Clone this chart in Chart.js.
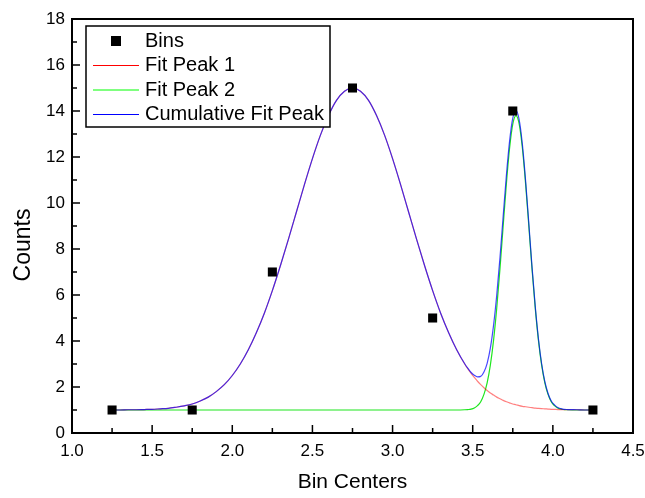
<!DOCTYPE html>
<html>
<head>
<meta charset="utf-8">
<title>Counts vs Bin Centers</title>
<script src="https://cdn.jsdelivr.net/npm/chart.js@4.4.1/dist/chart.umd.min.js"></script>
<style>
  html, body { margin: 0; padding: 0; background: #fff; }
  canvas { display: block; }
</style>
</head>
<body>
<canvas id="chart" width="645" height="498"></canvas>
<script>
// histogram bins
const binCenters = [1.25, 1.75, 2.25, 2.75, 3.25, 3.75, 4.25];
const binCounts  = [1, 1, 7, 15, 5, 14, 1];

// fitted curves, sampled along x (denser around the narrow second peak)
const fitX = [
  1.25, 1.30, 1.35, 1.40, 1.45, 1.50, 1.55, 1.60, 1.65, 1.70, 1.75,
  1.80, 1.85, 1.90, 1.95, 2.00, 2.05, 2.10, 2.15, 2.20, 2.25,
  2.30, 2.35, 2.40, 2.45, 2.50, 2.55, 2.60, 2.65, 2.70, 2.75,
  2.80, 2.85, 2.90, 2.95, 3.00, 3.05, 3.10, 3.15, 3.20, 3.25,
  3.30, 3.35, 3.40,
  3.45, 3.47, 3.49, 3.51, 3.53, 3.55, 3.57, 3.59, 3.61, 3.63, 3.65,
  3.67, 3.69, 3.71, 3.73, 3.75, 3.77, 3.79, 3.81, 3.83, 3.85, 3.87,
  3.89, 3.91, 3.93, 3.95, 3.97, 3.99, 4.01, 4.03, 4.05, 4.07, 4.09,
  4.15, 4.20, 4.25
];
const fitPeak1 = [
  1.00, 1.00, 1.01, 1.01, 1.02, 1.03, 1.05, 1.07, 1.12, 1.18, 1.26,
  1.39, 1.56, 1.80, 2.10, 2.50, 3.00, 3.62, 4.36, 5.21, 6.19,
  7.27, 8.42, 9.61, 10.80, 11.93, 12.95, 13.80, 14.46, 14.86, 15.00,
  14.86, 14.46, 13.80, 12.95, 11.93, 10.80, 9.61, 8.42, 7.27, 6.19,
  5.21, 4.36, 3.62,
  3.00, 2.79, 2.59, 2.42, 2.25, 2.10, 1.97, 1.85, 1.74, 1.65, 1.56,
  1.49, 1.42, 1.36, 1.31, 1.26, 1.23, 1.19, 1.16, 1.14, 1.12, 1.10,
  1.08, 1.07, 1.06, 1.05, 1.04, 1.03, 1.03, 1.02, 1.02, 1.01, 1.01,
  1.01, 1.00, 1.00
];
const fitPeak2 = [
  1.00, 1.00, 1.00, 1.00, 1.00, 1.00, 1.00, 1.00, 1.00, 1.00, 1.00,
  1.00, 1.00, 1.00, 1.00, 1.00, 1.00, 1.00, 1.00, 1.00, 1.00,
  1.00, 1.00, 1.00, 1.00, 1.00, 1.00, 1.00, 1.00, 1.00, 1.00,
  1.00, 1.00, 1.00, 1.00, 1.00, 1.00, 1.00, 1.00, 1.00, 1.00,
  1.00, 1.00, 1.00,
  1.01, 1.02, 1.04, 1.09, 1.19, 1.36, 1.68, 2.18, 2.95, 4.03, 5.44,
  7.13, 9.00, 10.83, 12.38, 13.43, 13.80, 13.43, 12.38, 10.83, 9.00, 7.13,
  5.44, 4.03, 2.95, 2.18, 1.68, 1.36, 1.19, 1.09, 1.04, 1.02, 1.01,
  1.00, 1.00, 1.00
];
const fitCumulative = [
  1.00, 1.00, 1.01, 1.01, 1.02, 1.03, 1.05, 1.07, 1.12, 1.18, 1.26,
  1.39, 1.56, 1.80, 2.10, 2.50, 3.00, 3.62, 4.36, 5.21, 6.19,
  7.27, 8.42, 9.61, 10.80, 11.93, 12.95, 13.80, 14.46, 14.86, 15.00,
  14.86, 14.46, 13.80, 12.95, 11.93, 10.80, 9.61, 8.42, 7.27, 6.19,
  5.21, 4.36, 3.62,
  3.01, 2.81, 2.63, 2.51, 2.44, 2.46, 2.65, 3.03, 3.69, 4.68, 6.00,
  7.62, 9.42, 11.19, 12.69, 13.69, 14.03, 13.62, 12.54, 10.97, 9.12, 7.23,
  5.52, 4.10, 3.01, 2.23, 1.72, 1.39, 1.22, 1.11, 1.06, 1.03, 1.02,
  1.01, 1.00, 1.00
];

const xTicks = [1.0, 1.5, 2.0, 2.5, 3.0, 3.5, 4.0, 4.5];
const yTicks = [0, 2, 4, 6, 8, 10, 12, 14, 16, 18];

const FONT = '"Liberation Sans", Arial, sans-serif';
Chart.defaults.font.family = FONT;
Chart.defaults.color = '#000';

function points(xs, ys) {
  return xs.map((x, i) => ({ x: x, y: ys[i] }));
}

function curve(label, values, color, legendColor, order) {
  return {
    label: label,
    data: points(fitX, values),
    showLine: true,
    borderColor: color,
    legendColor: legendColor,
    borderWidth: 1.2,
    pointRadius: 0,
    cubicInterpolationMode: 'monotone',
    order: order
  };
}

// box around the plot with inward major/minor ticks on the bottom and left,
// plus the rotated y title
const frameTicks = {
  id: 'frameTicks',
  afterDatasetsDraw(chart) {
    const { ctx, chartArea: a, scales } = chart;
    const sx = scales.x, sy = scales.y;
    ctx.save();
    ctx.strokeStyle = '#000';
    ctx.lineWidth = 1.5;
    ctx.beginPath();
    xTicks.forEach((v, i) => {
      const px = sx.getPixelForValue(v);
      ctx.moveTo(px, a.bottom);
      ctx.lineTo(px, a.bottom - 8);
      if (i < xTicks.length - 1) {
        const mx = sx.getPixelForValue((v + xTicks[i + 1]) / 2);
        ctx.moveTo(mx, a.bottom);
        ctx.lineTo(mx, a.bottom - 5);
      }
    });
    yTicks.forEach((v, i) => {
      const py = sy.getPixelForValue(v);
      ctx.moveTo(a.left, py);
      ctx.lineTo(a.left + 8, py);
      if (i < yTicks.length - 1) {
        const my = sy.getPixelForValue((v + yTicks[i + 1]) / 2);
        ctx.moveTo(a.left, my);
        ctx.lineTo(a.left + 5, my);
      }
    });
    ctx.stroke();
    ctx.lineWidth = 2;
    ctx.strokeRect(a.left, a.top, a.right - a.left, a.bottom - a.top);

    ctx.translate(24, 245);
    ctx.rotate(-Math.PI / 2);
    ctx.font = '23px ' + FONT;
    ctx.fillStyle = '#000';
    ctx.textAlign = 'center';
    ctx.textBaseline = 'middle';
    ctx.fillText('Counts', 0, 0);
    ctx.restore();
  }
};

// framed legend sitting inside the plot, top left
const boxLegend = {
  id: 'boxLegend',
  afterDraw(chart) {
    const ctx = chart.ctx;
    const bx = 86, by = 26, bw = 244, bh = 101;
    ctx.save();
    ctx.fillStyle = '#fff';
    ctx.fillRect(bx, by, bw, bh);
    ctx.strokeStyle = '#000';
    ctx.lineWidth = 1.5;
    ctx.strokeRect(bx, by, bw, bh);
    ctx.font = '20px ' + FONT;
    ctx.textBaseline = 'middle';
    chart.data.datasets.forEach((ds, i) => {
      const cy = by + 15 + i * 24.5;
      if (ds.showLine) {
        ctx.strokeStyle = ds.legendColor;
        ctx.lineWidth = 1;
        ctx.beginPath();
        ctx.moveTo(bx + 7, cy);
        ctx.lineTo(bx + 53, cy);
        ctx.stroke();
      } else {
        ctx.fillStyle = ds.pointBackgroundColor;
        ctx.fillRect(bx + 25, cy - 5, 10, 10);
      }
      ctx.fillStyle = '#000';
      ctx.fillText(ds.label, bx + 59, cy);
    });
    ctx.restore();
  }
};

new Chart(document.getElementById('chart'), {
  type: 'scatter',
  data: {
    datasets: [
      {
        label: 'Bins',
        data: points(binCenters, binCounts),
        showLine: false,
        pointStyle: 'rect',
        pointRadius: 6.4,
        pointBorderWidth: 0,
        pointBackgroundColor: '#000',
        borderColor: '#000',
        order: 0
      },
      curve('Fit Peak 1', fitPeak1, 'rgba(255,0,0,0.5)', '#ff0000', 2),
      curve('Fit Peak 2', fitPeak2, 'rgb(30,230,30)', '#00ff00', 3),
      curve('Cumulative Fit Peak', fitCumulative, 'rgba(0,0,255,0.72)', '#0000ff', 1)
    ]
  },
  options: {
    responsive: false,
    animation: false,
    devicePixelRatio: 1,
    layout: { padding: { top: 19, right: 12, left: 0, bottom: 0 } },
    plugins: {
      legend: { display: false },
      tooltip: { enabled: false }
    },
    scales: {
      x: {
        type: 'linear',
        min: 1.0,
        max: 4.5,
        afterBuildTicks: s => { s.ticks = xTicks.map(v => ({ value: v })); },
        afterFit: s => { s.height = 65; s.paddingLeft = 0; s.paddingRight = 0; },
        ticks: {
          callback: v => v.toFixed(1),
          padding: 8,
          maxRotation: 0,
          autoSkip: false,
          font: { size: 17 }
        },
        grid: { display: false, drawTicks: false },
        border: { display: false },
        title: {
          display: true,
          text: 'Bin Centers',
          font: { size: 21 },
          padding: { top: 0, bottom: 3 }
        }
      },
      y: {
        type: 'linear',
        min: 0,
        max: 18,
        afterBuildTicks: s => { s.ticks = yTicks.map(v => ({ value: v })); },
        afterFit: s => { s.width = 72; s.paddingTop = 0; s.paddingBottom = 0; },
        ticks: {
          padding: 7,
          autoSkip: false,
          font: { size: 17 }
        },
        grid: { display: false, drawTicks: false },
        border: { display: false },
        title: { display: false }
      }
    }
  },
  plugins: [frameTicks, boxLegend]
});
</script>
</body>
</html>
